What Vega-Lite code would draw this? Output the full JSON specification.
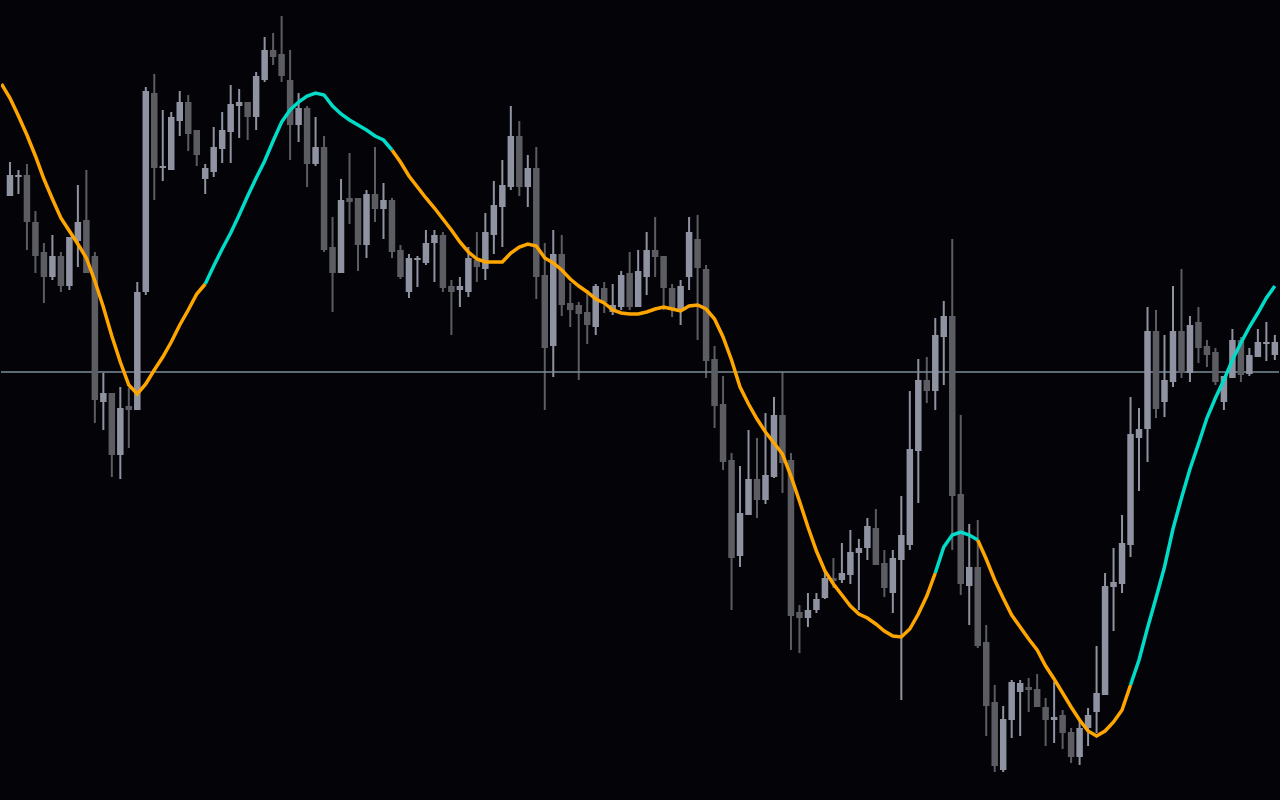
{
  "$schema": "https://vega.github.io/schema/vega-lite/v6.json",
  "width": 1280,
  "height": 800,
  "autosize": {"type": "fit", "contains": "padding"},
  "padding": 0,
  "background": "#040408",
  "config": {"view": {"stroke": null}},
  "datasets": {
    "level": [{"p": 428}],
    "candles": [
      {"i":0,"o":604,"c":625,"h":638,"l":604},
      {"i":1,"o":623,"c":625,"h":630,"l":606},
      {"i":2,"o":625,"c":578,"h":636,"l":550},
      {"i":3,"o":578,"c":544,"h":589,"l":527},
      {"i":4,"o":548,"c":523,"h":557,"l":497},
      {"i":5,"o":523,"c":544,"h":565,"l":520},
      {"i":6,"o":544,"c":514,"h":548,"l":508},
      {"i":7,"o":514,"c":563,"h":563,"l":510},
      {"i":8,"o":559,"c":578,"h":615,"l":533},
      {"i":9,"o":580,"c":527,"h":630,"l":527},
      {"i":10,"o":544,"c":400,"h":548,"l":377},
      {"i":11,"o":398,"c":407,"h":427,"l":370},
      {"i":12,"o":407,"c":345,"h":407,"l":323},
      {"i":13,"o":345,"c":392,"h":413,"l":321},
      {"i":14,"o":394,"c":390,"h":412,"l":352},
      {"i":15,"o":390,"c":508,"h":518,"l":390},
      {"i":16,"o":508,"c":709,"h":713,"l":505},
      {"i":17,"o":707,"c":632,"h":726,"l":600},
      {"i":18,"o":632,"c":634,"h":690,"l":619},
      {"i":19,"o":630,"c":683,"h":688,"l":630},
      {"i":20,"o":679,"c":698,"h":709,"l":664},
      {"i":21,"o":698,"c":666,"h":705,"l":649},
      {"i":22,"o":670,"c":645,"h":670,"l":634},
      {"i":23,"o":621,"c":632,"h":636,"l":606},
      {"i":24,"o":628,"c":653,"h":673,"l":623},
      {"i":25,"o":651,"c":670,"h":688,"l":637},
      {"i":26,"o":668,"c":696,"h":715,"l":637},
      {"i":27,"o":694,"c":698,"h":711,"l":662},
      {"i":28,"o":698,"c":683,"h":698,"l":660},
      {"i":29,"o":683,"c":724,"h":728,"l":670},
      {"i":30,"o":720,"c":750,"h":763,"l":718},
      {"i":31,"o":750,"c":743,"h":767,"l":735},
      {"i":32,"o":746,"c":724,"h":784,"l":718},
      {"i":33,"o":720,"c":675,"h":750,"l":640},
      {"i":34,"o":675,"c":692,"h":707,"l":658},
      {"i":35,"o":692,"c":636,"h":694,"l":613},
      {"i":36,"o":636,"c":653,"h":683,"l":634},
      {"i":37,"o":653,"c":550,"h":664,"l":548},
      {"i":38,"o":553,"c":527,"h":583,"l":488},
      {"i":39,"o":527,"c":600,"h":621,"l":527},
      {"i":40,"o":602,"c":598,"h":647,"l":576},
      {"i":41,"o":602,"c":555,"h":602,"l":529},
      {"i":42,"o":555,"c":606,"h":610,"l":542},
      {"i":43,"o":606,"c":591,"h":653,"l":578},
      {"i":44,"o":591,"c":600,"h":617,"l":561},
      {"i":45,"o":600,"c":548,"h":602,"l":542},
      {"i":46,"o":550,"c":523,"h":555,"l":521},
      {"i":47,"o":508,"c":542,"h":546,"l":502},
      {"i":48,"o":540,"c":542,"h":544,"l":513},
      {"i":49,"o":537,"c":557,"h":570,"l":535},
      {"i":50,"o":557,"c":565,"h":570,"l":518},
      {"i":51,"o":565,"c":512,"h":568,"l":508},
      {"i":52,"o":514,"c":508,"h":520,"l":465},
      {"i":53,"o":510,"c":514,"h":523,"l":493},
      {"i":54,"o":508,"c":542,"h":553,"l":503},
      {"i":55,"o":540,"c":533,"h":568,"l":518},
      {"i":56,"o":531,"c":568,"h":587,"l":520},
      {"i":57,"o":565,"c":595,"h":619,"l":546},
      {"i":58,"o":593,"c":615,"h":640,"l":553},
      {"i":59,"o":613,"c":664,"h":694,"l":610},
      {"i":60,"o":664,"c":613,"h":679,"l":604},
      {"i":61,"o":613,"c":632,"h":645,"l":593},
      {"i":62,"o":632,"c":523,"h":653,"l":501},
      {"i":63,"o":525,"c":452,"h":557,"l":390},
      {"i":64,"o":454,"c":546,"h":570,"l":423},
      {"i":65,"o":546,"c":495,"h":565,"l":484},
      {"i":66,"o":497,"c":490,"h":517,"l":473},
      {"i":67,"o":495,"c":486,"h":498,"l":420},
      {"i":68,"o":488,"c":475,"h":510,"l":456},
      {"i":69,"o":473,"c":514,"h":516,"l":465},
      {"i":70,"o":512,"c":498,"h":518,"l":487},
      {"i":71,"o":488,"c":495,"h":516,"l":485},
      {"i":72,"o":493,"c":525,"h":529,"l":490},
      {"i":73,"o":527,"c":493,"h":548,"l":490},
      {"i":74,"o":493,"c":529,"h":550,"l":493},
      {"i":75,"o":523,"c":550,"h":568,"l":505},
      {"i":76,"o":550,"c":543,"h":583,"l":523},
      {"i":77,"o":544,"c":512,"h":544,"l":490},
      {"i":78,"o":512,"c":490,"h":516,"l":483},
      {"i":79,"o":490,"c":514,"h":520,"l":475},
      {"i":80,"o":523,"c":568,"h":583,"l":510},
      {"i":81,"o":561,"c":532,"h":585,"l":460},
      {"i":82,"o":531,"c":439,"h":535,"l":422},
      {"i":83,"o":441,"c":394,"h":454,"l":372},
      {"i":84,"o":396,"c":338,"h":424,"l":330},
      {"i":85,"o":340,"c":242,"h":347,"l":190},
      {"i":86,"o":244,"c":287,"h":334,"l":233},
      {"i":87,"o":285,"c":321,"h":370,"l":285},
      {"i":88,"o":321,"c":300,"h":362,"l":282},
      {"i":89,"o":300,"c":325,"h":387,"l":296},
      {"i":90,"o":323,"c":385,"h":403,"l":322},
      {"i":91,"o":385,"c":337,"h":428,"l":307},
      {"i":92,"o":340,"c":184,"h":347,"l":150},
      {"i":93,"o":188,"c":182,"h":195,"l":147},
      {"i":94,"o":182,"c":190,"h":207,"l":173},
      {"i":95,"o":190,"c":201,"h":207,"l":187},
      {"i":96,"o":202,"c":222,"h":230,"l":201},
      {"i":97,"o":222,"c":219,"h":242,"l":212},
      {"i":98,"o":220,"c":227,"h":257,"l":217},
      {"i":99,"o":225,"c":248,"h":270,"l":216},
      {"i":100,"o":247,"c":252,"h":261,"l":190},
      {"i":101,"o":252,"c":274,"h":282,"l":240},
      {"i":102,"o":272,"c":235,"h":291,"l":235},
      {"i":103,"o":237,"c":212,"h":250,"l":203},
      {"i":104,"o":207,"c":242,"h":250,"l":187},
      {"i":105,"o":240,"c":265,"h":304,"l":100},
      {"i":106,"o":255,"c":351,"h":409,"l":250},
      {"i":107,"o":349,"c":420,"h":441,"l":297},
      {"i":108,"o":420,"c":409,"h":443,"l":397},
      {"i":109,"o":409,"c":465,"h":482,"l":390},
      {"i":110,"o":463,"c":484,"h":499,"l":415},
      {"i":111,"o":484,"c":304,"h":561,"l":250},
      {"i":112,"o":306,"c":216,"h":385,"l":205},
      {"i":113,"o":214,"c":233,"h":276,"l":175},
      {"i":114,"o":233,"c":154,"h":280,"l":152},
      {"i":115,"o":158,"c":94,"h":175,"l":64},
      {"i":116,"o":98,"c":34,"h":115,"l":28},
      {"i":117,"o":30,"c":81,"h":94,"l":28},
      {"i":118,"o":80,"c":118,"h":120,"l":62},
      {"i":119,"o":108,"c":117,"h":120,"l":64},
      {"i":120,"o":113,"c":110,"h":122,"l":88},
      {"i":121,"o":111,"c":93,"h":126,"l":93},
      {"i":122,"o":93,"c":80,"h":102,"l":54},
      {"i":123,"o":80,"c":83,"h":118,"l":57},
      {"i":124,"o":85,"c":67,"h":90,"l":51},
      {"i":125,"o":68,"c":43,"h":72,"l":37},
      {"i":126,"o":43,"c":72,"h":81,"l":35},
      {"i":127,"o":72,"c":85,"h":92,"l":54},
      {"i":128,"o":88,"c":107,"h":154,"l":67},
      {"i":129,"o":105,"c":214,"h":227,"l":105},
      {"i":130,"o":213,"c":218,"h":252,"l":169},
      {"i":131,"o":216,"c":257,"h":285,"l":207},
      {"i":132,"o":255,"c":366,"h":403,"l":243},
      {"i":133,"o":362,"c":371,"h":392,"l":309},
      {"i":134,"o":371,"c":469,"h":493,"l":338},
      {"i":135,"o":469,"c":391,"h":490,"l":382},
      {"i":136,"o":398,"c":420,"h":465,"l":383},
      {"i":137,"o":418,"c":469,"h":514,"l":413},
      {"i":138,"o":469,"c":427,"h":531,"l":422},
      {"i":139,"o":427,"c":475,"h":484,"l":418},
      {"i":140,"o":478,"c":452,"h":493,"l":437},
      {"i":141,"o":454,"c":445,"h":460,"l":433},
      {"i":142,"o":448,"c":418,"h":452,"l":415},
      {"i":143,"o":398,"c":424,"h":424,"l":390},
      {"i":144,"o":422,"c":460,"h":471,"l":422},
      {"i":145,"o":460,"c":425,"h":463,"l":418},
      {"i":146,"o":426,"c":445,"h":452,"l":424},
      {"i":147,"o":443,"c":458,"h":471,"l":443},
      {"i":148,"o":456,"c":458,"h":478,"l":439},
      {"i":149,"o":445,"c":458,"h":465,"l":440}
    ],
    "line": [
      {"i":-1,"v":716,"s":1,"t":"dn"},{"i":0,"v":702,"s":1,"t":"dn"},{"i":1,"v":684,"s":1,"t":"dn"},{"i":2,"v":665,"s":1,"t":"dn"},{"i":3,"v":644,"s":1,"t":"dn"},{"i":4,"v":621,"s":1,"t":"dn"},{"i":5,"v":601,"s":1,"t":"dn"},{"i":6,"v":582,"s":1,"t":"dn"},{"i":7,"v":569,"s":1,"t":"dn"},{"i":8,"v":556,"s":1,"t":"dn"},{"i":9,"v":542,"s":1,"t":"dn"},{"i":10,"v":519,"s":1,"t":"dn"},{"i":11,"v":493,"s":1,"t":"dn"},{"i":12,"v":464,"s":1,"t":"dn"},{"i":13,"v":438,"s":1,"t":"dn"},{"i":14,"v":415,"s":1,"t":"dn"},{"i":15,"v":406,"s":1,"t":"dn"},{"i":16,"v":416,"s":1,"t":"dn"},{"i":17,"v":430,"s":1,"t":"dn"},{"i":18,"v":443,"s":1,"t":"dn"},{"i":19,"v":458,"s":1,"t":"dn"},{"i":20,"v":475,"s":1,"t":"dn"},{"i":21,"v":490,"s":1,"t":"dn"},{"i":22,"v":506,"s":1,"t":"dn"},{"i":23,"v":516,"s":1,"t":"dn"},
      {"i":23,"v":516,"s":2,"t":"up"},{"i":24,"v":534,"s":2,"t":"up"},{"i":25,"v":551,"s":2,"t":"up"},{"i":26,"v":567,"s":2,"t":"up"},{"i":27,"v":585,"s":2,"t":"up"},{"i":28,"v":604,"s":2,"t":"up"},{"i":29,"v":622,"s":2,"t":"up"},{"i":30,"v":639,"s":2,"t":"up"},{"i":31,"v":659,"s":2,"t":"up"},{"i":32,"v":678,"s":2,"t":"up"},{"i":33,"v":690,"s":2,"t":"up"},{"i":34,"v":698,"s":2,"t":"up"},{"i":35,"v":704,"s":2,"t":"up"},{"i":36,"v":707,"s":2,"t":"up"},{"i":37,"v":705,"s":2,"t":"up"},{"i":38,"v":694,"s":2,"t":"up"},{"i":39,"v":686,"s":2,"t":"up"},{"i":40,"v":680,"s":2,"t":"up"},{"i":41,"v":675,"s":2,"t":"up"},{"i":42,"v":670,"s":2,"t":"up"},{"i":43,"v":664,"s":2,"t":"up"},{"i":44,"v":660,"s":2,"t":"up"},{"i":45,"v":650,"s":2,"t":"up"},
      {"i":45,"v":650,"s":3,"t":"dn"},{"i":46,"v":638,"s":3,"t":"dn"},{"i":47,"v":624,"s":3,"t":"dn"},{"i":48,"v":613,"s":3,"t":"dn"},{"i":49,"v":602,"s":3,"t":"dn"},{"i":50,"v":592,"s":3,"t":"dn"},{"i":51,"v":581,"s":3,"t":"dn"},{"i":52,"v":570,"s":3,"t":"dn"},{"i":53,"v":558,"s":3,"t":"dn"},{"i":54,"v":548,"s":3,"t":"dn"},{"i":55,"v":541,"s":3,"t":"dn"},{"i":56,"v":538,"s":3,"t":"dn"},{"i":57,"v":538,"s":3,"t":"dn"},{"i":58,"v":538,"s":3,"t":"dn"},{"i":59,"v":547,"s":3,"t":"dn"},{"i":60,"v":553,"s":3,"t":"dn"},{"i":61,"v":556,"s":3,"t":"dn"},{"i":62,"v":554,"s":3,"t":"dn"},{"i":63,"v":542,"s":3,"t":"dn"},{"i":64,"v":537,"s":3,"t":"dn"},{"i":65,"v":530,"s":3,"t":"dn"},{"i":66,"v":521,"s":3,"t":"dn"},{"i":67,"v":514,"s":3,"t":"dn"},{"i":68,"v":508,"s":3,"t":"dn"},{"i":69,"v":501,"s":3,"t":"dn"},{"i":70,"v":497,"s":3,"t":"dn"},{"i":71,"v":490,"s":3,"t":"dn"},{"i":72,"v":487,"s":3,"t":"dn"},{"i":73,"v":486,"s":3,"t":"dn"},{"i":74,"v":486,"s":3,"t":"dn"},{"i":75,"v":488,"s":3,"t":"dn"},{"i":76,"v":491,"s":3,"t":"dn"},{"i":77,"v":493,"s":3,"t":"dn"},{"i":78,"v":491,"s":3,"t":"dn"},{"i":79,"v":489,"s":3,"t":"dn"},{"i":80,"v":494,"s":3,"t":"dn"},{"i":81,"v":495,"s":3,"t":"dn"},{"i":82,"v":491,"s":3,"t":"dn"},{"i":83,"v":481,"s":3,"t":"dn"},{"i":84,"v":463,"s":3,"t":"dn"},{"i":85,"v":440,"s":3,"t":"dn"},{"i":86,"v":413,"s":3,"t":"dn"},{"i":87,"v":396,"s":3,"t":"dn"},{"i":88,"v":381,"s":3,"t":"dn"},{"i":89,"v":368,"s":3,"t":"dn"},{"i":90,"v":357,"s":3,"t":"dn"},{"i":91,"v":346,"s":3,"t":"dn"},{"i":92,"v":324,"s":3,"t":"dn"},{"i":93,"v":299,"s":3,"t":"dn"},{"i":94,"v":273,"s":3,"t":"dn"},{"i":95,"v":249,"s":3,"t":"dn"},{"i":96,"v":229,"s":3,"t":"dn"},{"i":97,"v":216,"s":3,"t":"dn"},{"i":98,"v":205,"s":3,"t":"dn"},{"i":99,"v":194,"s":3,"t":"dn"},{"i":100,"v":186,"s":3,"t":"dn"},{"i":101,"v":182,"s":3,"t":"dn"},{"i":102,"v":176,"s":3,"t":"dn"},{"i":103,"v":169,"s":3,"t":"dn"},{"i":104,"v":164,"s":3,"t":"dn"},{"i":105,"v":163,"s":3,"t":"dn"},{"i":106,"v":171,"s":3,"t":"dn"},{"i":107,"v":186,"s":3,"t":"dn"},{"i":108,"v":204,"s":3,"t":"dn"},{"i":109,"v":227,"s":3,"t":"dn"},
      {"i":109,"v":227,"s":4,"t":"up"},{"i":110,"v":253,"s":4,"t":"up"},{"i":111,"v":265,"s":4,"t":"up"},{"i":112,"v":268,"s":4,"t":"up"},{"i":113,"v":265,"s":4,"t":"up"},{"i":114,"v":260,"s":4,"t":"up"},
      {"i":114,"v":260,"s":5,"t":"dn"},{"i":115,"v":241,"s":5,"t":"dn"},{"i":116,"v":220,"s":5,"t":"dn"},{"i":117,"v":202,"s":5,"t":"dn"},{"i":118,"v":185,"s":5,"t":"dn"},{"i":119,"v":173,"s":5,"t":"dn"},{"i":120,"v":161,"s":5,"t":"dn"},{"i":121,"v":150,"s":5,"t":"dn"},{"i":122,"v":134,"s":5,"t":"dn"},{"i":123,"v":121,"s":5,"t":"dn"},{"i":124,"v":107,"s":5,"t":"dn"},{"i":125,"v":93,"s":5,"t":"dn"},{"i":126,"v":80,"s":5,"t":"dn"},{"i":127,"v":69,"s":5,"t":"dn"},{"i":128,"v":64,"s":5,"t":"dn"},{"i":129,"v":69,"s":5,"t":"dn"},{"i":130,"v":78,"s":5,"t":"dn"},{"i":131,"v":90,"s":5,"t":"dn"},{"i":132,"v":115,"s":5,"t":"dn"},
      {"i":132,"v":115,"s":6,"t":"up"},{"i":133,"v":140,"s":6,"t":"up"},{"i":134,"v":172,"s":6,"t":"up"},{"i":135,"v":202,"s":6,"t":"up"},{"i":136,"v":233,"s":6,"t":"up"},{"i":137,"v":271,"s":6,"t":"up"},{"i":138,"v":302,"s":6,"t":"up"},{"i":139,"v":331,"s":6,"t":"up"},{"i":140,"v":356,"s":6,"t":"up"},{"i":141,"v":382,"s":6,"t":"up"},{"i":142,"v":402,"s":6,"t":"up"},{"i":143,"v":420,"s":6,"t":"up"},{"i":144,"v":440,"s":6,"t":"up"},{"i":145,"v":457,"s":6,"t":"up"},{"i":146,"v":473,"s":6,"t":"up"},{"i":147,"v":487,"s":6,"t":"up"},{"i":148,"v":502,"s":6,"t":"up"},{"i":149,"v":514,"s":6,"t":"up"}
    ]
  },
  "layer": [
    {
      "data": {"name": "candles"},
      "mark": {"type": "rule", "strokeWidth": 2, "clip": true},
      "encoding": {
        "x": {"field": "i", "type": "quantitative", "scale": {"domain": [-0.4667, 148.9], "nice": false, "zero": false}, "axis": null},
        "y": {"field": "l", "type": "quantitative", "scale": {"domain": [0, 800], "nice": false, "zero": false}, "axis": null},
        "y2": {"field": "h"},
        "color": {"condition": {"test": "datum.c >= datum.o", "value": "#8f93a1"}, "value": "#5c5d62"}
      }
    },
    {
      "data": {"name": "level"},
      "mark": {"type": "rule", "strokeWidth": 1.5, "color": "#7a8c99"},
      "encoding": {
        "y": {"field": "p", "type": "quantitative", "scale": {"domain": [0, 800], "nice": false, "zero": false}, "axis": null}
      }
    },
    {
      "data": {"name": "candles"},
      "mark": {"type": "bar", "size": 6.5, "clip": true},
      "encoding": {
        "x": {"field": "i", "type": "quantitative", "scale": {"domain": [-0.4667, 148.9], "nice": false, "zero": false}, "axis": null},
        "y": {"field": "o", "type": "quantitative", "scale": {"domain": [0, 800], "nice": false, "zero": false}, "axis": null},
        "y2": {"field": "c"},
        "color": {"condition": {"test": "datum.c >= datum.o", "value": "#8f93a1"}, "value": "#5c5d62"}
      }
    },
    {
      "data": {"name": "line"},
      "mark": {"type": "line", "strokeWidth": 3.5, "clip": true},
      "encoding": {
        "x": {"field": "i", "type": "quantitative", "scale": {"domain": [-0.4667, 148.9], "nice": false, "zero": false}, "axis": null},
        "y": {"field": "v", "type": "quantitative", "scale": {"domain": [0, 800], "nice": false, "zero": false}, "axis": null},
        "detail": {"field": "s", "type": "nominal"},
        "color": {"field": "t", "type": "nominal", "scale": {"domain": ["up", "dn"], "range": ["#00dcc8", "#ffa500"]}, "legend": null}
      }
    }
  ]
}
